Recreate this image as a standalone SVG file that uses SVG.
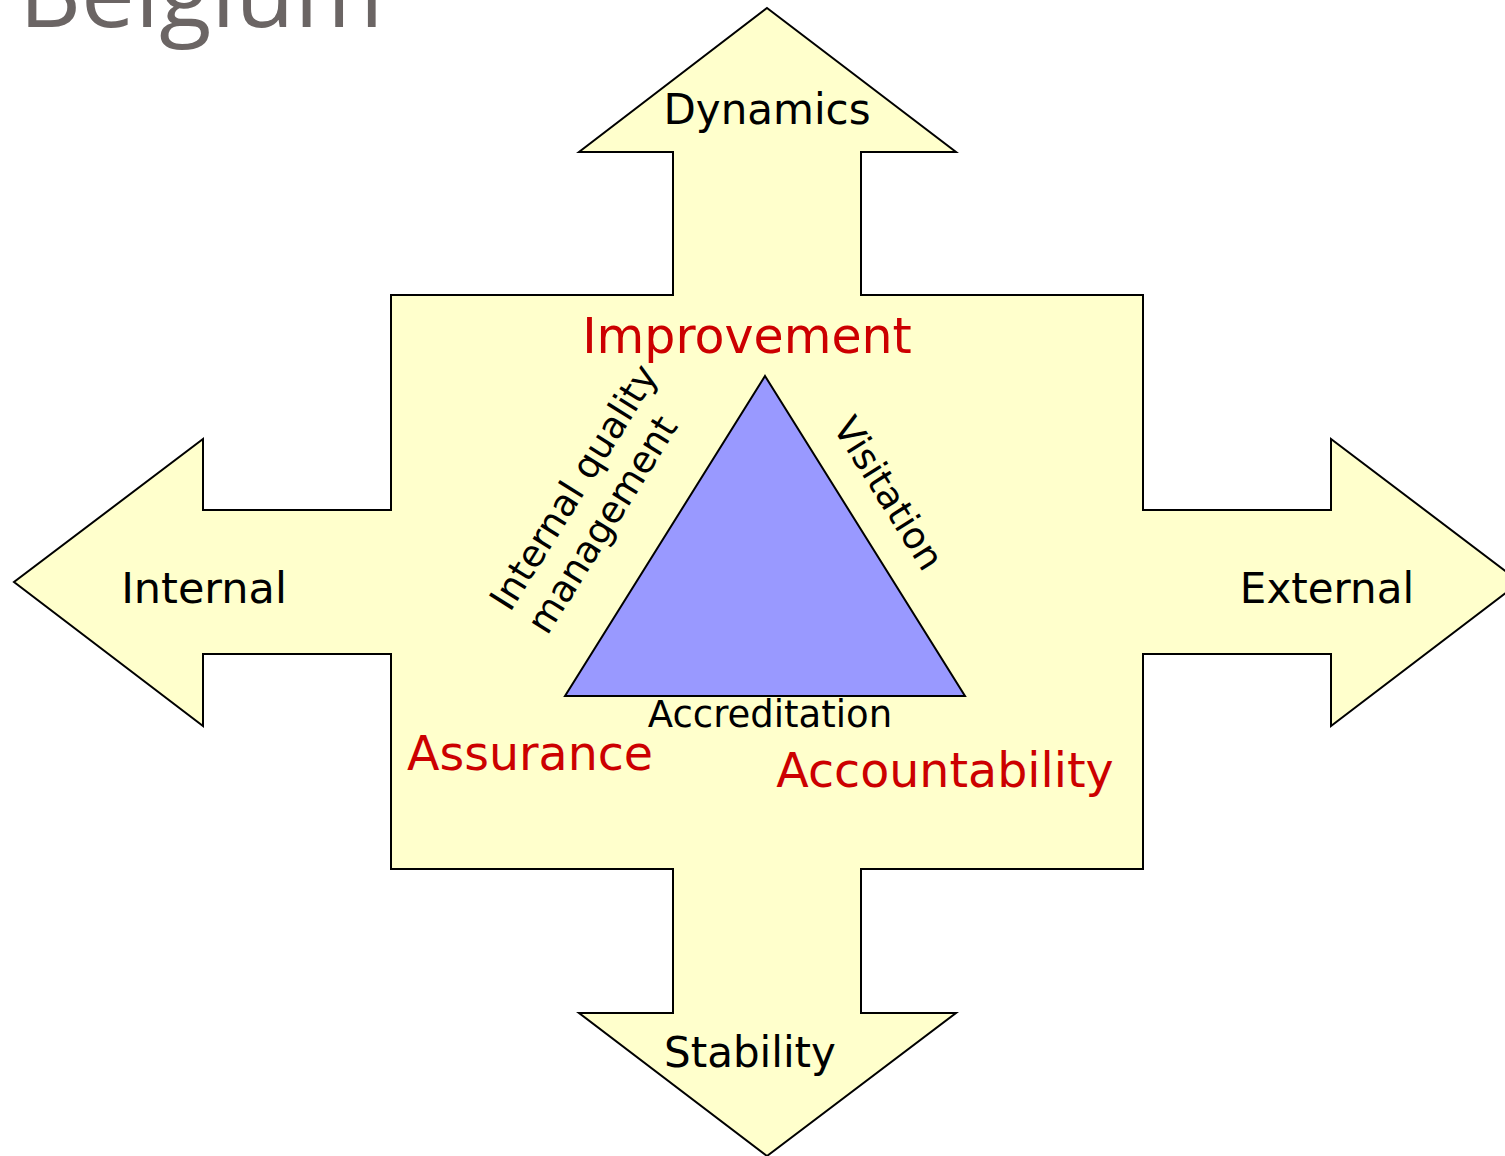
<svg xmlns="http://www.w3.org/2000/svg" width="1505" height="1156" viewBox="0 0 1505 1156">
  <style>
    .lbl { font-family: "DejaVu Sans", Verdana, sans-serif; fill: #000000; }
    .big { font-size: 42px; }
    .red { font-family: "DejaVu Sans", Verdana, sans-serif; fill: #CC0000; font-size: 47.5px; }
    .side { font-size: 37px; }
    .title { font-family: "Open Sans", "Liberation Sans", sans-serif; fill: #6B6564; font-size: 96px; }
  </style>
  <rect x="0" y="0" width="1505" height="1156" fill="#FFFFFF"/>
  <text class="title" x="19" y="27">Belgium</text>
  <g id="cross">
    <polygon fill="#FFFFCC" stroke="#000000" stroke-width="2" stroke-linejoin="miter"
      points="767,8 956,152 861,152 861,295 1143,295 1143,510 1331,510 1331,439 1520,582 1331,726 1331,654 1143,654 1143,869 861,869 861,1013 956,1013 767,1156 579,1013 673,1013 673,869 391,869 391,654 203,654 203,726 14,582 203,439 203,510 391,510 391,295 673,295 673,152 579,152"/>
  </g>
  <g id="triangle">
    <polygon fill="#9999FF" stroke="#000000" stroke-width="2" points="765,376 965,696 565,696"/>
  </g>
  <g id="dynamics"><text class="lbl big" x="767" y="124" text-anchor="middle">Dynamics</text></g>
  <g id="stability"><text class="lbl big" x="750" y="1067" text-anchor="middle">Stability</text></g>
  <g id="internal"><text class="lbl big" x="204" y="603" text-anchor="middle" style="font-size:43px">Internal</text></g>
  <g id="external"><text class="lbl big" x="1327" y="603" text-anchor="middle">External</text></g>
  <g id="improvement"><text class="red" x="747" y="353" text-anchor="middle" style="font-size:49px">Improvement</text></g>
  <g id="assurance"><text class="red" x="530" y="770" text-anchor="middle">Assurance</text></g>
  <g id="accountability"><text class="red" x="945" y="787" text-anchor="middle">Accountability</text></g>
  <g id="accreditation"><text class="lbl side" x="770" y="727" text-anchor="middle">Accreditation</text></g>
  <g id="iqm" transform="translate(510,613) rotate(-58)">
    <text class="lbl side" x="0" y="0">Internal quality</text>
    <text class="lbl side" x="0" y="44">management</text>
  </g>
  <g id="visitation" transform="translate(832,427) rotate(58)">
    <text class="lbl side" x="0" y="0">Visitation</text>
  </g>
</svg>
